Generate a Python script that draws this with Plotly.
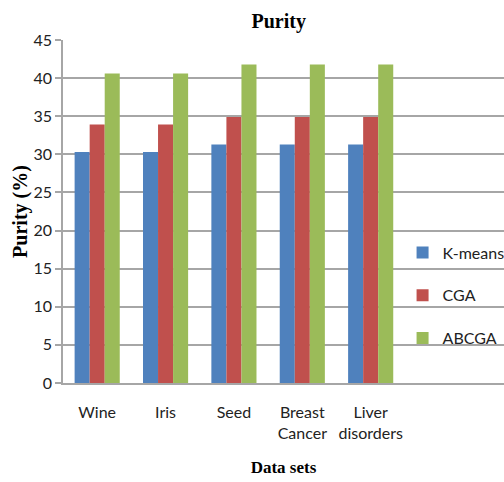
import plotly.graph_objects as go

# Purity (%) of each clustering method on the benchmark data sets
datasets = ["Wine", "Iris", "Seed", "Breast<br>Cancer", "Liver<br>disorders"]
kmeans = [30.3, 30.3, 31.3, 31.3, 31.3]
cga = [33.9, 33.9, 34.9, 34.9, 34.9]
abcga = [40.6, 40.6, 41.8, 41.8, 41.8]

series = [
    ("K-means", kmeans, "#4F81BD"),
    ("CGA", cga, "#C0504D"),
    ("ABCGA", abcga, "#9BBB59"),
]

fig = go.Figure()
for name, vals, color in series:
    fig.add_trace(go.Bar(
        name=name, x=list(range(len(datasets))), y=vals,
        marker=dict(color=color, line=dict(width=0)),
        legendgroup=name,
    ))

grid = "#A6A6A6"
tick_font = dict(family="Lato, Open Sans, sans-serif", size=16, color="#222")
serif_bold = dict(family="Liberation Serif, Times New Roman, serif", size=17, color="#000")

fig.update_layout(
    width=504, height=482,
    margin=dict(l=63, r=0, t=40, b=99, autoexpand=False),
    paper_bgcolor="white", plot_bgcolor="white",
    barmode="group", bargap=0.34, bargroupgap=0,
    title=dict(text="<b>Purity</b>", x=0.553, xanchor="center", y=0.957, yanchor="middle",
               font=dict(family="Liberation Serif, Times New Roman, serif", size=20, color="#000")),
    showlegend=True,
    legend=dict(x=0.77, y=0.43, xanchor="left", yanchor="top",
                bgcolor="rgba(0,0,0,0)", font=dict(tick_font, size=16),
                tracegroupgap=19, itemwidth=30),
    xaxis=dict(
        tickmode="array", tickvals=list(range(len(datasets))), ticktext=datasets,
        range=[-0.5, 5.95], showgrid=False, zeroline=False,
        showline=True, linecolor=grid, linewidth=1.5,
        ticks="", tickfont=tick_font, ticklabelstandoff=14,
        title=dict(text="<b>Data sets</b>", font=serif_bold, standoff=20),
    ),
    yaxis=dict(
        range=[0, 45], dtick=5, showgrid=True, gridcolor=grid, gridwidth=1.5,
        zeroline=False, showline=True, linecolor=grid, linewidth=1.5,
        ticks="outside", ticklen=6, tickcolor=grid, tickwidth=1.5,
        tickfont=tick_font,
        title=dict(text="<b>Purity (%)</b>", font=dict(serif_bold, size=20), standoff=0),
    ),
)

fig.write_html("out.html")
